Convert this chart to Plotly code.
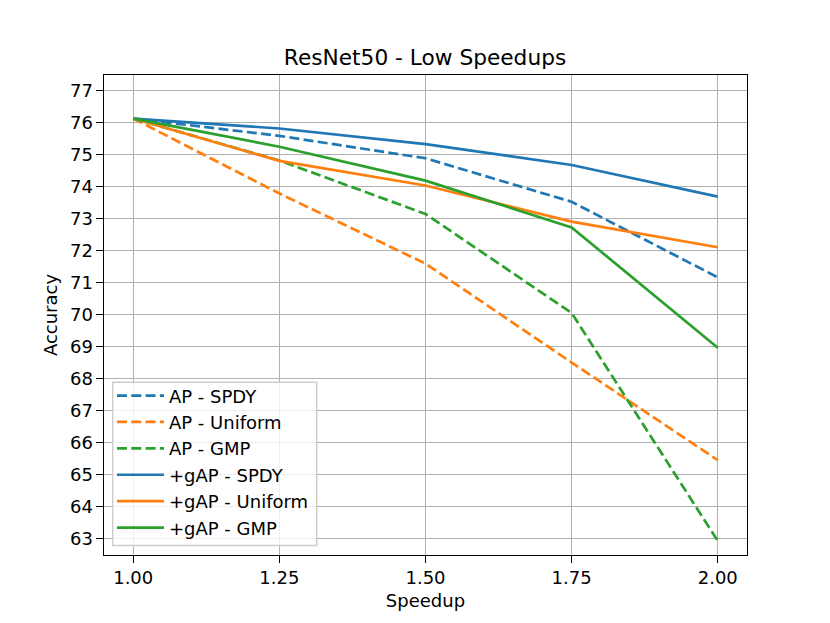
import plotly.graph_objects as go

speedup = [1.00, 1.25, 1.50, 1.75, 2.00]

ap_spdy = [76.13, 75.59, 74.89, 73.53, 71.17]
ap_uniform = [76.13, 73.79, 71.60, 68.51, 65.46]
ap_gmp = [76.13, 74.82, 73.15, 70.06, 62.94]
gap_spdy = [76.13, 75.82, 75.33, 74.68, 73.69]
gap_uniform = [76.13, 74.81, 74.04, 72.91, 72.11]
gap_gmp = [76.13, 75.25, 74.19, 72.73, 68.97]

x_ticks = [1.00, 1.25, 1.50, 1.75, 2.00]
x_tick_labels = ["1.00", "1.25", "1.50", "1.75", "2.00"]
y_ticks = list(range(63, 78))

series = [
    ("AP - SPDY", ap_spdy, "#1f77b4", "dash"),
    ("AP - Uniform", ap_uniform, "#ff7f0e", "dash"),
    ("AP - GMP", ap_gmp, "#2ca02c", "dash"),
    ("+gAP - SPDY", gap_spdy, "#1f77b4", "solid"),
    ("+gAP - Uniform", gap_uniform, "#ff7f0e", "solid"),
    ("+gAP - GMP", gap_gmp, "#2ca02c", "solid"),
]

fig = go.Figure()
for i, (name, vals, color, style) in enumerate(series):
    dash = "10px,4.3px" if style == "dash" else "solid"
    fig.add_trace(go.Scatter(
        x=speedup, y=vals, mode="lines", name=name,
        legendgroup=f"g{i}",
        line=dict(color=color, width=2.7, dash=dash),
    ))

# legend frame (matplotlib-style box behind the legend entries)
fig.add_shape(
    type="rect", xref="paper", yref="paper",
    x0=0.0135, x1=0.3308, y0=0.0198, y1=0.36,
    fillcolor="rgba(255,255,255,0.8)",
    line=dict(color="#cccccc", width=1.44), layer="above",
)

font = "DejaVu Sans, Liberation Sans, sans-serif"
fs = 18
fig.update_layout(
    width=830, height=623,
    margin=dict(l=96, r=91, t=67, b=76),
    paper_bgcolor="white", plot_bgcolor="white",
    font=dict(family=font, size=fs, color="black"),
    title=dict(text="ResNet50 - Low Speedups", x=(425 - 8) / 830, xanchor="center",
               y=1 - 49 / 623, yanchor="middle", font=dict(size=21.7)),
    showlegend=True,
    legend=dict(
        x=0.0124, y=0.018, xanchor="left", yanchor="bottom",
        bgcolor="rgba(0,0,0,0)", borderwidth=0,
        font=dict(size=fs), traceorder="grouped", tracegroupgap=0,
        itemwidth=47,
    ),
)
fig.update_xaxes(
    range=[0.95, 2.05], tickvals=x_ticks, ticktext=x_tick_labels,
    tickfont=dict(size=fs),
    showgrid=True, gridcolor="#b0b0b0", gridwidth=1.44,
    showline=True, linecolor="black", linewidth=1.44, mirror=True,
    ticks="outside", ticklen=6.3, tickwidth=1.44, tickcolor="black",
    zeroline=False,
    title=dict(text="Speedup", standoff=7, font=dict(size=fs)),
)
fig.update_yaxes(
    range=[62.5, 77.49], tickvals=y_ticks,
    tickfont=dict(size=fs),
    showgrid=True, gridcolor="#b0b0b0", gridwidth=1.44,
    showline=True, linecolor="black", linewidth=1.44, mirror=True,
    ticks="outside", ticklen=6.3, tickwidth=1.44, tickcolor="black",
    zeroline=False,
    title=dict(text="Accuracy", standoff=7, font=dict(size=fs)),
)

fig.write_html("out.html")
